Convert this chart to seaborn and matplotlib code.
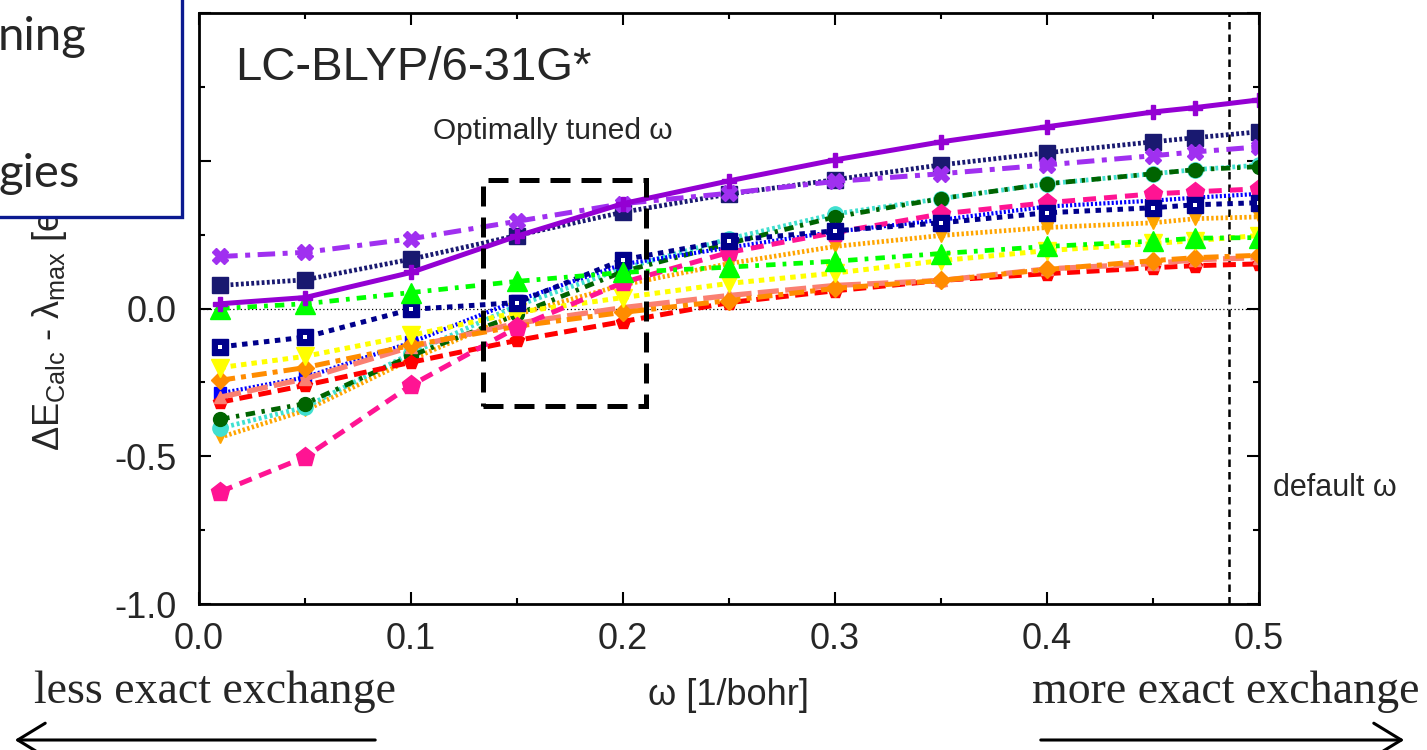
import numpy as np
import pandas as pd
import matplotlib
matplotlib.use("Agg")
import matplotlib.pyplot as plt
import seaborn as sns
from matplotlib.patches import Rectangle, FancyArrowPatch

# ---------------- data ----------------
omega = [0.01, 0.05, 0.10, 0.15, 0.20, 0.25, 0.30, 0.35, 0.40, 0.45, 0.47, 0.50]

s_violet_solid = [0.016, 0.037, 0.122, 0.245, 0.355, 0.432, 0.503, 0.564, 0.615, 0.665, 0.680, 0.706]
s_midnight     = [0.078, 0.097, 0.167, 0.247, 0.326, 0.387, 0.436, 0.486, 0.527, 0.564, 0.578, 0.598]
s_blueviolet   = [0.176, 0.190, 0.236, 0.295, 0.355, 0.390, 0.430, 0.456, 0.486, 0.517, 0.530, 0.547]
s_lime         = [0.000, 0.016, 0.054, 0.092, 0.122, 0.140, 0.160, 0.186, 0.210, 0.228, 0.238, 0.240]
s_navy_open    = [-0.130, -0.097, -0.003, 0.020, 0.165, 0.230, 0.263, 0.290, 0.324, 0.341, 0.351, 0.358]
s_yellow       = [-0.200, -0.162, -0.091, -0.013, 0.037, 0.085, 0.120, 0.162, 0.196, 0.220, 0.230, 0.247]
s_darkorange   = [-0.243, -0.200, -0.125, -0.060, -0.013, 0.027, 0.068, 0.095, 0.132, 0.162, 0.172, 0.180]
s_salmon       = [-0.300, -0.238, -0.130, -0.050, 0.003, 0.044, 0.078, 0.095, 0.134, 0.152, 0.165, 0.172]
s_red          = [-0.317, -0.260, -0.182, -0.108, -0.044, 0.020, 0.060, 0.095, 0.118, 0.138, 0.145, 0.151]
s_blue         = [-0.287, -0.233, -0.115, 0.027, 0.150, 0.206, 0.260, 0.300, 0.345, 0.365, 0.375, 0.388]
s_deeppink     = [-0.620, -0.503, -0.260, -0.064, 0.088, 0.190, 0.257, 0.320, 0.358, 0.388, 0.395, 0.405]
s_darkgreen    = [-0.375, -0.322, -0.160, -0.020, 0.125, 0.220, 0.310, 0.372, 0.422, 0.456, 0.470, 0.480]
s_turquoise    = [-0.405, -0.334, -0.152, 0.010, 0.135, 0.236, 0.320, 0.372, 0.422, 0.456, 0.470, 0.485]
s_orange       = [-0.436, -0.345, -0.172, -0.020, 0.080, 0.152, 0.210, 0.247, 0.274, 0.290, 0.304, 0.310]

x_ticks = [0.0, 0.1, 0.2, 0.3, 0.4, 0.5]
y_ticks = [-1.0, -0.5, 0.0, 0.5, 1.0]
default_omega = 0.486
tuned_box = (0.134, -0.331, 0.211, 0.436)   # x0, y0, x1, y1

# style table: name -> (values, color, marker, markersize, linestyle, linewidth)
series = [
    ("orange",     s_orange,       "#FFA500", "v", 9,  (0, (0.5, 0.5)), 3.4),
    ("turquoise",  s_turquoise,    "#40E0D0", "o", 11, (0, (0.6, 0.6)), 3.4),
    ("darkgreen",  s_darkgreen,    "#006400", "o", 10, (0, (2.0, 1.4, 0.7, 1.4)), 3.4),
    ("blue",       s_blue,         "#0000FF", "s", 9,  (0, (0.5, 0.5)), 3.0),
    ("red",        s_red,          "#FF0000", "p", 10, (0, (2.6, 1.3)), 3.6),
    ("salmon",     s_salmon,       "#FA8072", "^", 9,  (0, (4.0, 1.2)), 3.8),
    ("darkorange", s_darkorange,   "#FF8C00", "D", 9,  (0, (3.0, 1.2, 1.0, 1.2)), 3.6),
    ("yellow",     s_yellow,       "#FFFF00", "v", 13, (0, (1.1, 1.0)), 3.6),
    ("deeppink",   s_deeppink,     "#FF1493", "p", 14, (0, (2.6, 1.6)), 3.6),
    ("navy",       s_navy_open,    "#00008B", "s", 11, (0, (1.1, 1.1)), 3.6),
    ("lime",       s_lime,         "#00FF00", "^", 14, (0, (2.0, 1.5, 0.8, 1.5)), 3.4),
    ("midnight",   s_midnight,     "#191970", "s", 11, (0, (0.6, 0.5)), 3.4),
    ("blueviolet", s_blueviolet,   "#A030F0", "X", 12, (0, (3.5, 1.5, 1.0, 1.5)), 3.6),
    ("violet",     s_violet_solid, "#9400D3", "P", 10, "-", 3.6),
]

# ---------------- style ----------------
sns.set_style("ticks")
plt.rcParams["font.family"] = ["Liberation Sans", "DejaVu Sans"]
plt.rcParams["mathtext.fontset"] = "custom"
plt.rcParams["mathtext.rm"] = "Liberation Sans"
plt.rcParams["mathtext.it"] = "Liberation Sans"
plt.rcParams["mathtext.bf"] = "Liberation Sans:bold"

fig = plt.figure(figsize=(14.27, 7.5), dpi=100)
fig.patch.set_facecolor("white")
ax = fig.add_axes([199 / 1427, 146 / 750, 1060 / 1427, 591 / 750])

for name, vals, col, mk, ms, ls, lw in series:
    df = pd.DataFrame({"omega": omega, "dE": vals})
    sns.lineplot(data=df, x="omega", y="dE", ax=ax, color=col, marker=mk,
                 markersize=ms, markeredgecolor=col, markeredgewidth=1.0,
                 linestyle=ls, linewidth=lw, errorbar=None, legend=False)
    if name == "navy":
        # small white inner mark of the open-square symbol
        sns.lineplot(data=df, x="omega", y="dE", ax=ax, color="white", marker="s",
                     markersize=3.5, markeredgecolor="white", markeredgewidth=0.0,
                     linestyle="none", errorbar=None, legend=False)

# reference lines
ax.axhline(0.0, color="black", lw=0.9, linestyle=(0, (1, 2)), zorder=1)
ax.axvline(default_omega, color="black", lw=1.8, linestyle=(0, (3, 2)), zorder=1)

# optimally tuned box
x0, y0, x1, y1 = tuned_box
ax.add_patch(Rectangle((x0, y0), x1 - x0, y1 - y0, fill=False, edgecolor="black",
                       lw=3.6, linestyle=(0, (4, 2.2)), zorder=10))

ax.set_xlim(0.0, 0.5)
ax.set_ylim(-1.0, 1.0)
ax.set_xticks(x_ticks)
ax.set_xticklabels([f"{v:.1f}" for v in x_ticks])
ax.set_xticks(np.arange(0.05, 0.5, 0.1), minor=True)
ax.set_yticks(y_ticks)
ax.set_yticklabels([f"{v:.1f}" for v in y_ticks])
ax.set_yticks([-0.75, -0.25, 0.25, 0.75], minor=True)
ax.tick_params(which="both", direction="in", top=True, right=True, width=1.5,
               labelsize=26, color="black")
ax.tick_params(axis="x", which="both", pad=13)
ax.tick_params(axis="y", which="both", pad=16)
ax.tick_params(which="major", length=8.5)
ax.tick_params(which="minor", length=4.5)
for sp in ax.spines.values():
    sp.set_linewidth(2.0)
    sp.set_color("black")
    sp.set_visible(True)

ax.set_xlabel("ω [1/bohr]", fontsize=26)
ax.xaxis.set_label_coords(0.5, -0.125)
ax.set_ylabel(r"$\Delta$E$_{\rm Calc}$ - $\lambda_{\rm max}$ [eV]", fontsize=26)
ax.yaxis.set_label_coords(-0.123, 0.49)

ax.text(0.034, 0.887, "LC-BLYP/6-31G*", transform=ax.transAxes, fontsize=34,
        ha="left", va="baseline")
ax.text(0.2208, 0.787, "Optimally tuned ω", transform=ax.transAxes, fontsize=21.5,
        ha="left", va="baseline")
fig.text(1273 / 1427, 1 - 496 / 750, "default ω", fontsize=22, ha="left", va="baseline")

# bottom annotations
fig.text(215 / 1427, 1 - 703 / 750, "less exact exchange", fontsize=33,
         family="Liberation Serif", ha="center", va="baseline")
fig.text(1226 / 1427, 1 - 703 / 750, "more exact exchange", fontsize=33,
         family="Liberation Serif", ha="center", va="baseline")
arrow_kw = dict(transform=fig.transFigure, arrowstyle="->,head_length=0.9,head_width=0.55",
                mutation_scale=22, lw=2.2, color="black")
fig.add_artist(FancyArrowPatch((378 / 1427, 1 - 740 / 750), (12 / 1427, 1 - 740 / 750), **arrow_kw))
fig.add_artist(FancyArrowPatch((1038 / 1427, 1 - 740 / 750), (1407 / 1427, 1 - 740 / 750), **arrow_kw))

# overlapping slide text box (top-left)
box = Rectangle((-0.01, 1 - 217 / 750), 0.01 + 182 / 1427, 217 / 750 + 0.02,
                transform=fig.transFigure, facecolor="white", edgecolor="#0b1a90",
                lw=2.4, zorder=20)
fig.add_artist(box)
fig.text(-2 / 1427, 1 - 50 / 750, "ning", fontsize=34, family=["Lato", "DejaVu Sans"],
         ha="left", va="baseline", zorder=21)
fig.text(-2 / 1427, 1 - 187 / 750, "gies", fontsize=34, family=["Lato", "DejaVu Sans"],
         ha="left", va="baseline", zorder=21)

fig.savefig("out.png", dpi=100, facecolor="white")
